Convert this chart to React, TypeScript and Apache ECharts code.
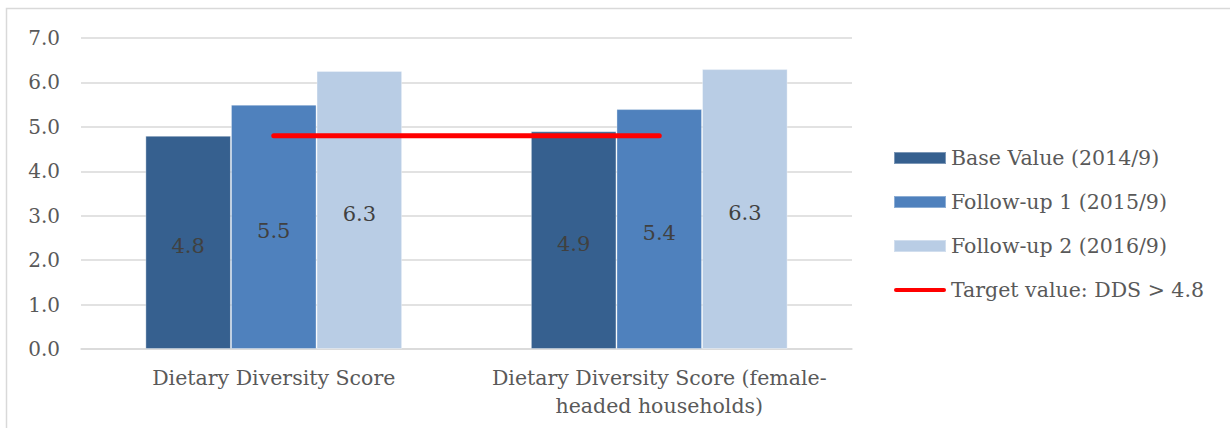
import React, { useEffect, useRef } from "react";
import * as echarts from "echarts";

const categories = ["Dietary Diversity Score", "Dietary Diversity Score (female-\nheaded households)"];
const seriesNames = ["Base Value (2014/9)", "Follow-up 1 (2015/9)", "Follow-up 2 (2016/9)"];
const baseValues = [4.8, 4.9];
const followUp1 = [5.5, 5.4];
const followUp2 = [6.26, 6.3];
const targetName = "Target value: DDS > 4.8";
const targetValues = [4.8, 4.8];
const yTicks = { min: 0, max: 7, interval: 1 };

const barColors = ["#36608F", "#4F81BD", "#B9CDE5"];

export default function App() {
  const ref = useRef<HTMLDivElement>(null);
  useEffect(() => {
    if (!ref.current) return;
    const chart = echarts.init(ref.current, undefined, { renderer: "svg" });
    const labelStyle = {
      show: true,
      position: "inside",
      offset: [0, 4],
      color: "#404040",
      fontFamily: "DejaVu Serif",
      fontSize: 21,
      formatter: (p: any) => Number(p.value).toFixed(1),
    };
    const barData = [baseValues, followUp1, followUp2];
    chart.setOption({
      animation: false,
      backgroundColor: "#ffffff",
      graphic: [
        {
          type: "rect",
          shape: { x: 6.5, y: 8.5, width: 1300, height: 500 },
          style: { fill: "none", stroke: "#d9d9d9", lineWidth: 1.5 },
          silent: true,
        },
      ],
      grid: { left: 81, right: 378, top: 38, bottom: 79 },
      legend: {
        orient: "vertical",
        left: 893,
        top: 146,
        padding: 0,
        itemWidth: 52,
        itemHeight: 12,
        itemGap: 20,
        textStyle: {
          fontFamily: "DejaVu Serif",
          fontSize: 20.5,
          color: "#595959",
          lineHeight: 24,
        },
        data: [
          { name: seriesNames[0], icon: "rect" },
          { name: seriesNames[1], icon: "rect" },
          { name: seriesNames[2], icon: "rect" },
          {
            name: targetName,
            icon: "path://M2,0 H50 A2,2 0 0 1 50,4 H2 A2,2 0 0 1 2,0 Z",
            itemStyle: { color: "#FF0000" },
          },
        ],
      },
      xAxis: {
        type: "category",
        data: categories,
        axisLine: { show: true, lineStyle: { color: "#d9d9d9", width: 1.5 } },
        axisTick: { show: false },
        axisLabel: {
          fontFamily: "DejaVu Serif",
          fontSize: 20.5,
          color: "#595959",
          margin: 15,
          lineHeight: 28,
          interval: 0,
        },
      },
      yAxis: {
        type: "value",
        min: yTicks.min,
        max: yTicks.max,
        interval: yTicks.interval,
        axisLine: { show: false },
        axisTick: { show: false },
        splitLine: { lineStyle: { color: "#d9d9d9", width: 1.5 } },
        axisLabel: {
          fontFamily: "DejaVu Serif",
          fontSize: 20,
          color: "#595959",
          margin: 21,
          formatter: (v: number) => v.toFixed(1),
        },
      },
      series: [
        ...barData.map((d, i) => ({
          type: "bar",
          name: seriesNames[i],
          data: d,
          barWidth: "22.2%",
          barGap: "0%",
          itemStyle: {
            color: barColors[i],
            borderColor: "rgba(255,255,255,0.35)",
            borderWidth: 1,
          },
          label: labelStyle,
        })),
        {
          type: "line",
          name: targetName,
          data: targetValues,
          symbol: "none",
          z: 5,
          lineStyle: { color: "#FF0000", width: 5, cap: "round" },
          itemStyle: { color: "#FF0000" },
        },
      ],
    });
    return () => chart.dispose();
  }, []);
  return (
    <div
      ref={ref}
      style={{ position: "fixed", left: 0, top: 0, width: 1230, height: 428 }}
    />
  );
}
